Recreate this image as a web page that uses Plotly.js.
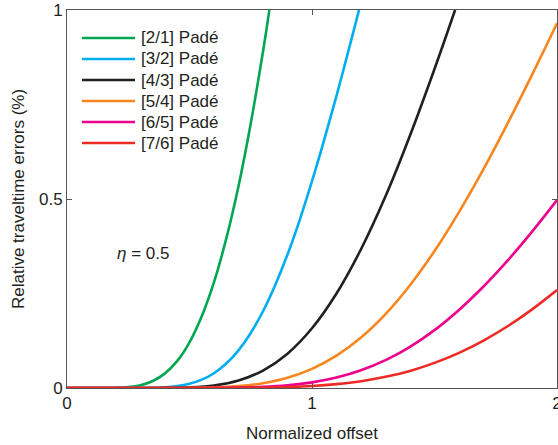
<!DOCTYPE html>
<html>
<head>
<meta charset="utf-8">
<script src="https://cdn.plot.ly/plotly-3.0.1.min.js"></script>
<style>html,body{margin:0;padding:0;background:#fff;}#chart{width:558px;height:445px;}</style>
</head>
<body>
<div id="chart"></div>
<script>
// Series names
const seriesNames = ["[2/1] Padé", "[3/2] Padé", "[4/3] Padé", "[5/4] Padé", "[6/5] Padé", "[7/6] Padé"];
const seriesColors = ["#00a651", "#00aeef", "#231f20", "#f7861f", "#ec008c", "#ee2a24"];

// [2/1] Padé
const x21 = [0, 0.1, 0.2, 0.25, 0.3, 0.35, 0.4, 0.45, 0.5, 0.55, 0.6, 0.65, 0.7, 0.75, 0.8, 0.826];
const y21 = [0, 0, 0.0005, 0.0023, 0.0074, 0.0184, 0.0387, 0.0716, 0.121, 0.190, 0.280, 0.395, 0.534, 0.700, 0.890, 1.0];
// [3/2] Padé
const x32 = [0, 0.2, 0.3, 0.4, 0.45, 0.5, 0.55, 0.6, 0.65, 0.7, 0.75, 0.8, 0.85, 0.9, 0.95, 1.0, 1.05, 1.1, 1.15, 1.192];
const y32 = [0, 0, 0.0004, 0.0019, 0.005, 0.0112, 0.0221, 0.0391, 0.0646, 0.0996, 0.1455, 0.203, 0.2725, 0.353, 0.445, 0.547, 0.657, 0.773, 0.895, 1.0];
// [4/3] Padé
const x43 = [0, 0.3, 0.4, 0.5, 0.6, 0.7, 0.8, 0.9, 1.0, 1.1, 1.2, 1.3, 1.4, 1.5, 1.584];
const y43 = [0, 0, 0.0003, 0.0017, 0.0068, 0.0199, 0.0461, 0.0908, 0.158, 0.250, 0.367, 0.507, 0.668, 0.844, 1.0];
// [5/4] Padé
const x54 = [0, 0.4, 0.5, 0.6, 0.7, 0.8, 0.9, 1.0, 1.1, 1.2, 1.3, 1.4, 1.5, 1.6, 1.7, 1.8, 1.9, 2.0];
const y54 = [0, 0, 0.0003, 0.0016, 0.005, 0.0127, 0.027, 0.0505, 0.0854, 0.1335, 0.1956, 0.272, 0.3624, 0.4654, 0.579, 0.702, 0.831, 0.965];
// [6/5] Padé
const x65 = [0, 0.5, 0.6, 0.7, 0.8, 0.9, 1.0, 1.1, 1.2, 1.3, 1.4, 1.5, 1.6, 1.7, 1.8, 1.9, 2.0];
const y65 = [0, 0, 0.0003, 0.001, 0.0029, 0.0071, 0.0149, 0.0276, 0.0468, 0.0736, 0.1089, 0.1532, 0.2066, 0.2685, 0.3383, 0.4149, 0.497];
// [7/6] Padé
const x76 = [0, 0.6, 0.7, 0.8, 0.9, 1.0, 1.1, 1.2, 1.3, 1.4, 1.5, 1.6, 1.7, 1.8, 1.9, 2.0];
const y76 = [0, 0, 0.0003, 0.00095, 0.0024, 0.0052, 0.0102, 0.018, 0.0295, 0.0453, 0.0664, 0.093, 0.1256, 0.164, 0.2087, 0.259];

// Axis ticks
const xTickVals = [0, 1, 2];
const xTickText = ["0", "1", "2"];
const yTickVals = [0, 0.5, 1];
const yTickText = ["0", "0.5", "1"];

const xs = [x21, x32, x43, x54, x65, x76];
const ys = [y21, y32, y43, y54, y65, y76];

const FONT = "Liberation Sans, Arial, Helvetica, sans-serif";
const TXT = "#231f20";

const traces = xs.map((x, i) => ({
  x: x, y: ys[i], type: "scatter", mode: "lines", name: seriesNames[i],
  line: {color: seriesColors[i], width: 2.6, shape: "spline", smoothing: 1},
  showlegend: false, hoverinfo: "skip"
}));

// Manual legend (styling only)
const shapes = [];
const annotations = [];
const legY0 = 0.926, legStep = 0.0556;
seriesNames.forEach((n, i) => {
  const yy = legY0 - i * legStep;
  shapes.push({type: "line", xref: "paper", yref: "paper", x0: 0.0306, x1: 0.1388, y0: yy, y1: yy,
    line: {color: seriesColors[i], width: 2.6}});
  annotations.push({xref: "paper", yref: "paper", x: 0.147, y: yy, xanchor: "left", yanchor: "middle",
    text: n, showarrow: false, font: {family: FONT, size: 17, color: TXT}});
});
annotations.push({xref: "paper", yref: "paper", x: 0.097, y: 0.357, xanchor: "left", yanchor: "middle",
  text: "<i>η</i> = 0.5", showarrow: false, font: {family: FONT, size: 17, color: TXT}});

const axisCommon = {
  showline: true, mirror: "ticks", linecolor: "#555", linewidth: 1,
  ticks: "inside", ticklen: 5, tickcolor: "#555", tickwidth: 1,
  showgrid: false, zeroline: false, tickmode: "array",
  tickfont: {family: FONT, size: 17, color: TXT}
};

const layout = {
  width: 558, height: 445,
  margin: {l: 67, r: 1, t: 10, b: 57, pad: 0},
  paper_bgcolor: "#fff", plot_bgcolor: "#fff",
  font: {family: FONT, size: 17, color: TXT},
  showlegend: false,
  xaxis: Object.assign({}, axisCommon, {
    range: [0, 2], tickvals: xTickVals, ticktext: xTickText,
    title: {text: "Normalized offset", font: {family: FONT, size: 17, color: TXT}, standoff: 14},
    automargin: false, ticklabelstandoff: 0, ticklabeloverflow: "allow"
  }),
  yaxis: Object.assign({}, axisCommon, {
    range: [0, 1], tickvals: yTickVals, ticktext: yTickText,
    title: {text: "Relative traveltime errors (%)", font: {family: FONT, size: 17, color: TXT}, standoff: 10},
    automargin: false, ticklabelstandoff: 0
  }),
  shapes: shapes,
  annotations: annotations
};

Plotly.newPlot("chart", traces, layout, {staticPlot: true, displayModeBar: false});
</script>
</body>
</html>
